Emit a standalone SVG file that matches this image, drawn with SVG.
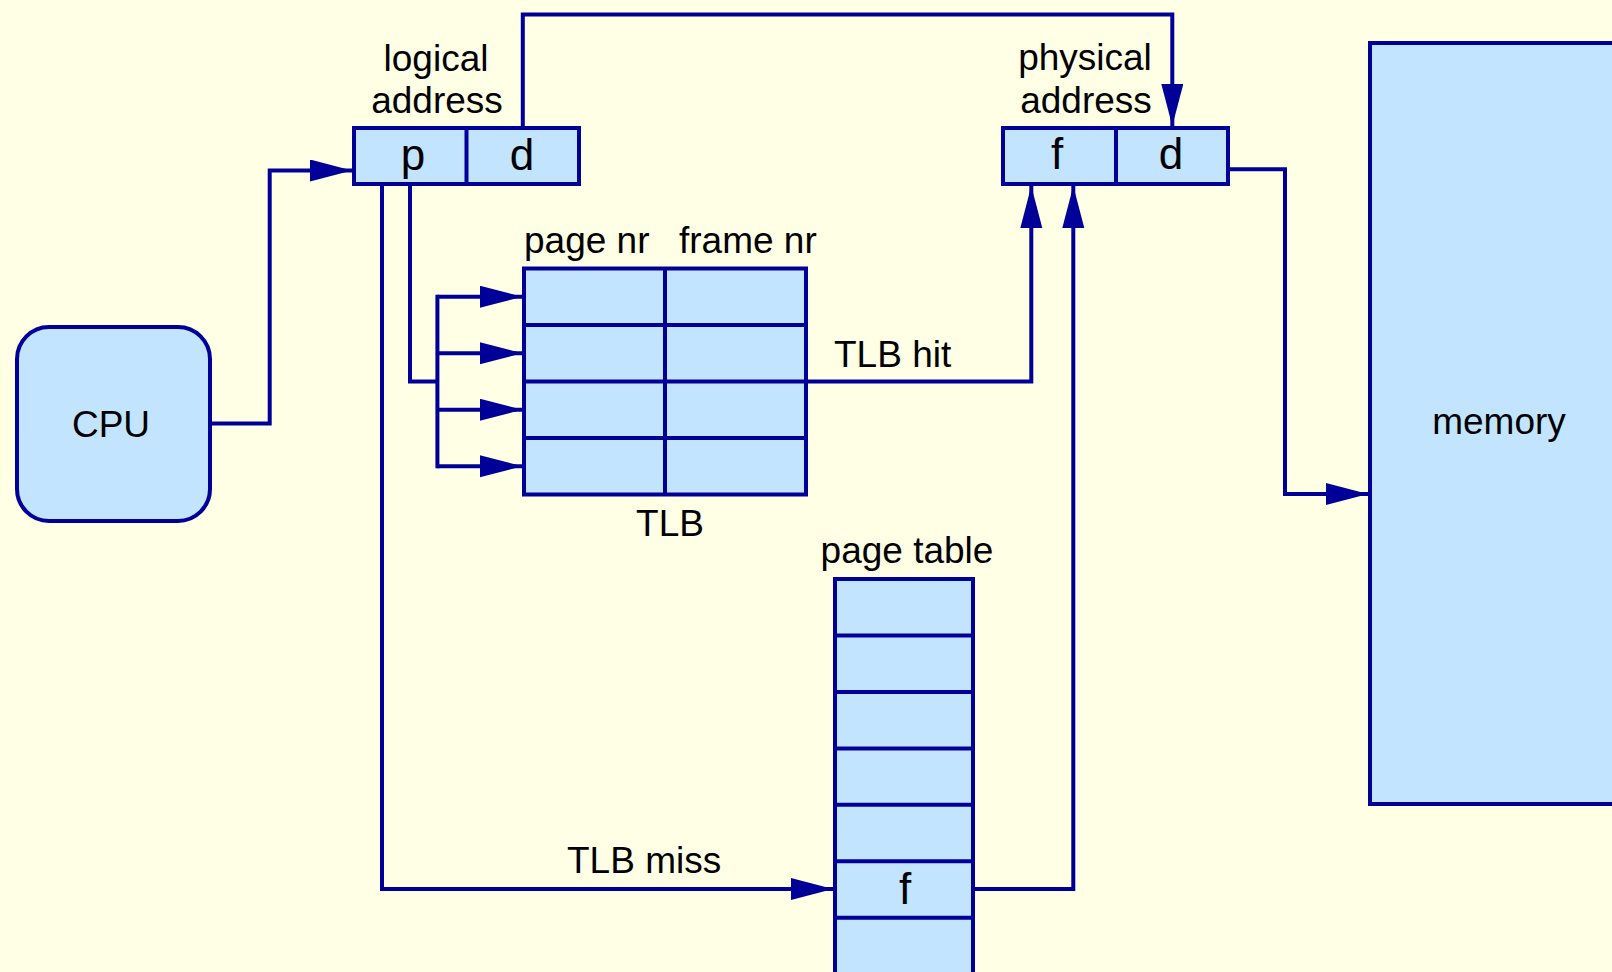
<svg xmlns="http://www.w3.org/2000/svg" width="1612" height="972" viewBox="0 0 1612 972">
<defs>
<style>
.box{fill:#c2e4ff;stroke:#000099;stroke-width:4}
.ln{fill:none;stroke:#000099;stroke-width:4}
.wire{fill:none;stroke:#000099;stroke-width:4;stroke-linejoin:miter}
.t{font-family:"Liberation Sans",Arial,sans-serif;font-size:37px;fill:#000}
.big{font-family:"Liberation Sans",Arial,sans-serif;font-size:44px;fill:#000}
.c{text-anchor:middle}
</style>
<marker id="ah" markerUnits="userSpaceOnUse" markerWidth="44" markerHeight="24" refX="42" refY="11" orient="auto">
<path d="M0,0 L42,11 L0,22 Z" fill="#000099"/>
</marker>
</defs>
<rect x="0" y="0" width="1612" height="972" fill="#ffffe6"/>

<g id="cpu">
<rect class="box" x="17" y="327" width="193" height="194" rx="32" ry="32"/>
<text class="t c" x="111" y="437">CPU</text>
</g>

<g id="logical-address">
<text class="t c" x="436" y="71">logical</text>
<text class="t c" x="437" y="113">address</text>
<rect class="box" x="354" y="128" width="225" height="56"/>
<line class="ln" x1="466.5" y1="128" x2="466.5" y2="184"/>
<text class="big c" x="413" y="170">p</text>
<text class="big c" x="522" y="170">d</text>
</g>

<g id="physical-address">
<text class="t c" x="1085" y="70">physical</text>
<text class="t c" x="1086" y="113">address</text>
<rect class="box" x="1003" y="128" width="225" height="56"/>
<line class="ln" x1="1116" y1="128" x2="1116" y2="184"/>
<text class="big c" x="1057" y="169">f</text>
<text class="big c" x="1171" y="169">d</text>
</g>

<g id="tlb">
<text class="t" x="524" y="253">page nr</text>
<text class="t" x="679" y="253">frame nr</text>
<rect class="box" x="524" y="268.5" width="282" height="226"/>
<line class="ln" x1="524" y1="325" x2="806" y2="325"/>
<line class="ln" x1="524" y1="381.5" x2="806" y2="381.5"/>
<line class="ln" x1="524" y1="438" x2="806" y2="438"/>
<line class="ln" x1="665" y1="268.5" x2="665" y2="494.5"/>
<text class="t c" x="670" y="536">TLB</text>
</g>

<g id="page-table">
<text class="t c" x="907" y="563">page table</text>
<rect class="box" x="835" y="579" width="138" height="410"/>
<line class="ln" x1="835" y1="635.5" x2="973" y2="635.5"/>
<line class="ln" x1="835" y1="692" x2="973" y2="692"/>
<line class="ln" x1="835" y1="748.4" x2="973" y2="748.4"/>
<line class="ln" x1="835" y1="804.8" x2="973" y2="804.8"/>
<line class="ln" x1="835" y1="861.3" x2="973" y2="861.3"/>
<line class="ln" x1="835" y1="917.7" x2="973" y2="917.7"/>
<text class="big c" x="905" y="904">f</text>
</g>

<g id="memory">
<rect class="box" x="1370" y="43" width="300" height="761"/>
<text class="t c" x="1499" y="434">memory</text>
</g>

<g id="connectors">
<polyline class="wire" points="212,423.5 269.7,423.5 269.7,170.5 352,170.5" marker-end="url(#ah)"/>
<polyline class="wire" points="522.8,128 522.8,14.5 1172.3,14.5 1172.3,126" marker-end="url(#ah)"/>
<polyline class="wire" points="410,184 410,381.5 437.4,381.5"/>
<line class="ln" x1="437.4" y1="294.8" x2="437.4" y2="468.2"/>
<line class="wire" x1="437.4" y1="296.75" x2="522" y2="296.75" marker-end="url(#ah)"/>
<line class="wire" x1="437.4" y1="353.25" x2="522" y2="353.25" marker-end="url(#ah)"/>
<line class="wire" x1="437.4" y1="409.75" x2="522" y2="409.75" marker-end="url(#ah)"/>
<line class="wire" x1="437.4" y1="466.25" x2="522" y2="466.25" marker-end="url(#ah)"/>
<polyline class="wire" points="806,381.5 1031.3,381.5 1031.3,186" marker-end="url(#ah)"/>
<text class="t" x="834" y="367">TLB hit</text>
<polyline class="wire" points="382,184 382,889 833,889" marker-end="url(#ah)"/>
<text class="t" x="567" y="873">TLB miss</text>
<polyline class="wire" points="973,889 1073.3,889 1073.3,186" marker-end="url(#ah)"/>
<polyline class="wire" points="1228,169.3 1285,169.3 1285,494 1368,494" marker-end="url(#ah)"/>
</g>
</svg>
